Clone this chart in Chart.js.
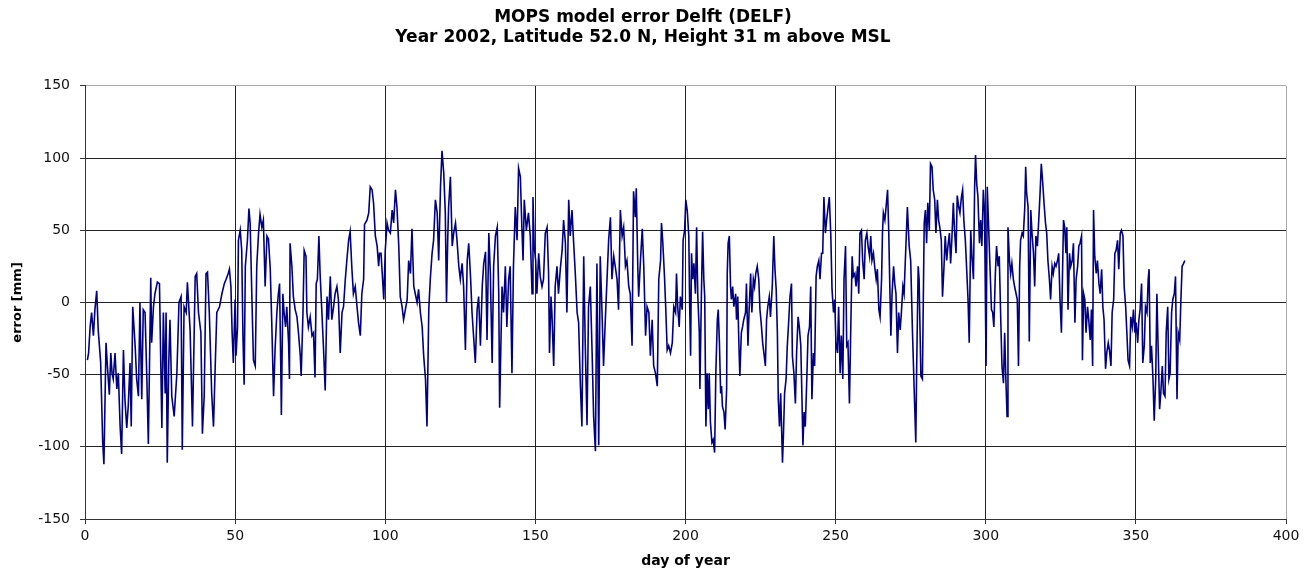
<!DOCTYPE html>
<html>
<head>
<meta charset="utf-8">
<title>MOPS model error Delft</title>
<script src="https://cdn.jsdelivr.net/npm/chart.js@4.4.1/dist/chart.umd.min.js"></script>
<style>
  html, body { margin: 0; padding: 0; background: #fff; }
  #wrap { width: 1313px; height: 572px; }
</style>
</head>
<body>
<div id="wrap"><canvas id="chart" width="1313" height="572"></canvas></div>
<script>
// [day of year, error in mm], in chunks of ~46 days
const days0to46 = [
  [0.8,-40],[1.2,-35],[1.7,-17],[2.2,-7],[2.8,-23],[3.3,-5],[3.9,8],[4.4,-19],[5.2,-41],[5.9,-97],
  [6.3,-112],[7.0,-28],[7.4,-42],[8.1,-64],[8.6,-35],[9.0,-49],[9.4,-53],[10.0,-35],[10.6,-60],[11.1,-49],
  [11.7,-86],[12.2,-105],[12.8,-33],[13.3,-67],[13.9,-87],[14.4,-72],[15.0,-42],[15.4,-86],[15.9,-3],[16.7,-30],
  [17.2,-53],[17.8,-65],[18.3,0],[18.9,-67],[19.4,-5],[20.0,-7],[20.6,-53],[21.1,-98],[21.9,17],[22.2,-28],
  [22.8,-3],[23.3,6],[24.1,14],[24.8,13],[25.6,-87],[26.1,-7],[26.7,-63],[27.0,-7],[27.4,-111],[27.9,-42],
  [28.3,-12],[28.9,-65],[29.7,-79],[30.6,-49],[31.3,0],[32.0,4],[32.4,-102],[33.0,-3],[33.7,-7],[34.1,14],
  [35.0,-19],[35.8,-86],[36.7,18],[37.2,20],[37.8,-7],[38.6,-21],[39.1,-91],[39.7,-65],[40.3,20],[40.8,21],
  [41.4,-7],[42.2,-63],[42.8,-86],[43.3,-49],[43.9,-7],[44.8,-3],[45.6,6],[46.4,13]
];
const days47to93 = [
  [47.0,16],[47.7,20],[48.1,23],[48.6,11],[49.0,-21],[49.4,-42],[50.0,2],[50.3,-37],[50.8,-17],[51.1,43],
  [51.7,50],[52.2,36],[52.6,-23],[53.0,-57],[53.4,25],[54.1,43],[54.6,65],[55.0,55],[55.6,2],[56.1,-40],
  [56.7,-44],[57.2,25],[57.8,48],[58.3,61],[58.9,52],[59.4,57],[60.0,11],[60.6,46],[61.1,44],[61.7,23],
  [62.2,-14],[62.8,-65],[63.3,-33],[63.9,-7],[64.4,6],[64.8,13],[65.2,-44],[65.4,-78],[65.9,6],[66.3,-7],
  [66.8,-17],[67.2,-3],[67.8,-28],[68.1,-53],[68.3,41],[68.9,25],[69.4,4],[70.0,-5],[70.6,-10],[71.1,-21],
  [71.7,-37],[72.0,-51],[72.6,-7],[73.0,36],[73.6,32],[73.9,-7],[74.4,-17],[75.0,-10],[75.6,-23],[76.1,-21],
  [76.6,-52],[77.0,13],[77.4,16],[77.9,46],[78.3,20],[78.9,-7],[79.4,-30],[80.0,-61],[80.6,4],[81.1,-12],
  [81.7,18],[82.2,-12],[82.8,-3],[83.3,6],[83.9,11],[84.4,2],[85.0,-35],[85.6,-7],[86.1,-3],[86.7,16],
  [87.2,29],[87.8,43],[88.3,49],[88.9,23],[89.4,6],[90.0,11],[90.6,-3],[91.1,-14],[91.7,-23],[92.2,6],
  [92.8,16],[93.1,54]
];
const days94to138 = [
  [93.9,57],[94.5,62],[95.0,80],[95.6,78],[96.1,69],[96.7,46],[97.3,39],[97.8,25],[98.1,34],[98.6,34],
  [99.0,20],[99.5,2],[100.0,36],[100.6,55],[101.1,50],[101.7,48],[102.3,64],[102.8,55],[103.4,78],[103.9,66],
  [104.5,39],[105.0,4],[105.6,-3],[106.1,-12],[106.7,-5],[107.3,2],[107.8,29],[108.4,20],[108.9,51],[109.5,11],
  [110.0,6],[110.6,0],[111.1,9],[111.7,-7],[112.3,-17],[112.8,-37],[113.4,-53],[113.9,-86],[114.5,-5],[115.0,16],
  [115.6,34],[116.1,43],[116.7,71],[117.3,62],[117.8,29],[118.4,80],[118.9,105],[119.5,89],[120.0,62],[120.4,0],
  [120.8,43],[121.1,66],[121.7,87],[122.3,39],[122.8,48],[123.4,55],[123.9,43],[124.5,25],[125.0,16],[125.6,27],
  [126.1,11],[126.7,-33],[127.3,29],[127.8,41],[128.4,18],[128.9,-7],[129.5,-26],[130.0,-42],[130.6,-5],[131.1,4],
  [131.7,-30],[132.3,11],[132.8,27],[133.4,35],[133.9,-26],[134.5,48],[135.0,20],[135.6,-42],[136.1,25],[136.7,46],
  [137.3,52],[137.8,6],[138.1,-73]
];
const days139to185 = [
  [138.9,11],[139.4,-7],[140.0,25],[140.5,-17],[141.1,16],[141.6,25],[142.2,-49],[142.7,25],[143.3,66],[143.9,43],
  [144.4,93],[145.0,87],[145.5,52],[145.9,29],[146.3,71],[147.0,50],[147.7,62],[148.3,46],[148.9,6],[149.2,73],
  [149.6,39],[150.1,29],[150.5,6],[151.1,34],[151.6,18],[152.2,11],[152.7,16],[153.3,48],[153.9,52],[154.4,20],
  [154.7,-35],[155.2,4],[155.5,-7],[156.1,-44],[156.6,11],[157.2,25],[157.7,6],[158.3,23],[158.9,36],[159.4,57],
  [160.0,41],[160.5,-7],[161.1,71],[161.6,46],[162.2,64],[162.7,43],[163.3,20],[163.9,-7],[164.4,-14],[165.0,-58],
  [165.5,-86],[166.1,32],[166.6,-28],[167.2,-85],[167.7,-3],[168.3,11],[168.9,-35],[169.4,-79],[170.0,-103],[170.5,27],
  [171.1,-99],[171.6,32],[172.2,-7],[172.7,-44],[173.3,-12],[173.9,18],[174.4,43],[175.0,59],[175.5,16],[176.1,32],
  [176.6,25],[177.2,16],[177.7,-5],[178.3,64],[178.9,46],[179.4,52],[180.0,25],[180.5,29],[181.1,11],[181.6,6],
  [182.2,-30],[182.7,77],[183.3,59],[183.6,79],[184.1,25],[184.4,4],[185.0,29]
];
const days186to231 = [
  [185.6,51],[186.1,25],[186.7,-23],[187.2,-3],[187.8,-7],[188.3,-37],[188.9,-12],[189.4,-44],[190.0,-49],[190.6,-58],
  [191.1,16],[191.7,29],[192.0,55],[192.4,43],[193.0,18],[193.4,-3],[193.9,-33],[194.4,-30],[195.0,-35],[195.6,-28],
  [196.1,-3],[196.7,-7],[197.0,20],[197.4,-3],[197.9,-17],[198.3,4],[198.9,-5],[199.2,43],[199.7,50],[200.1,71],
  [200.6,63],[201.1,46],[201.4,-3],[201.7,-37],[202.0,34],[202.4,16],[202.8,27],[203.3,6],[203.7,52],[204.1,4],
  [204.6,-21],[204.8,-60],[205.3,6],[205.7,49],[206.1,16],[206.4,4],[206.8,-86],[207.2,-49],[207.6,-74],[207.9,-49],
  [208.3,-83],[208.8,-97],[209.2,-95],[209.7,-104],[210.1,-49],[210.6,-12],[210.9,-5],[211.3,-28],[211.7,-63],[212.0,-58],
  [212.3,-72],[212.8,-76],[213.2,-88],[213.7,-60],[213.9,20],[214.2,41],[214.6,46],[215.0,11],[215.3,2],[215.7,11],
  [216.1,-3],[216.7,6],[217.0,-12],[217.4,4],[217.8,-30],[218.1,-51],[218.6,-21],[219.0,-17],[219.4,-12],[220.0,-7],
  [220.3,13],[220.8,-30],[221.2,-5],[221.7,20],[222.1,-7],[222.6,16],[223.0,11],[223.4,20],[223.9,25],[224.4,16],
  [224.8,-5],[225.2,-14],[225.7,-28],[226.1,-35],[226.6,-44],[227.0,-12],[227.4,-3],[227.9,4],[228.3,-10],[228.9,11],
  [229.4,46],[229.8,23],[230.2,9],[230.6,-21],[230.9,-67],[231.3,-86],[231.7,-63]
];
const days232to279 = [
  [232.3,-111],[232.6,-93],[233.0,-63],[233.5,-53],[233.9,-30],[234.4,-12],[234.8,4],[235.3,13],[235.6,-37],[236.1,-49],
  [236.6,-70],[237.0,-35],[237.5,-10],[237.9,-17],[238.4,-30],[238.8,-67],[239.1,-99],[239.5,-76],[239.9,-86],[240.4,-53],
  [240.8,-23],[241.3,-17],[241.7,11],[242.1,-67],[242.6,-35],[243.0,-44],[243.5,18],[243.9,25],[244.4,29],[244.8,16],
  [245.3,34],[245.7,34],[246.1,73],[246.6,48],[247.0,57],[247.5,66],[247.9,73],[248.4,46],[248.8,9],[249.3,-7],
  [249.7,2],[250.1,-28],[250.6,-35],[251.0,-3],[251.5,-49],[251.9,-23],[252.4,-53],[252.8,16],[253.3,39],[253.7,-30],
  [254.1,-28],[254.6,-70],[255.0,-23],[255.5,32],[255.9,18],[256.4,20],[256.8,11],[257.3,25],[257.7,6],[258.1,48],
  [258.6,50],[259.0,29],[259.5,16],[259.9,43],[260.4,48],[260.8,39],[261.3,32],[261.7,46],[262.1,29],[262.6,34],
  [263.0,25],[263.5,16],[263.9,23],[264.4,-5],[264.8,-10],[265.3,16],[265.6,48],[265.9,62],[266.4,57],[266.8,66],
  [267.3,78],[267.7,48],[268.1,6],[268.4,-23],[268.8,6],[269.3,25],[269.7,13],[270.1,6],[270.6,-35],[271.0,-7],
  [271.5,-19],[271.9,-7],[272.4,11],[272.8,6],[273.4,39],[273.9,66],[274.5,39],[275.0,29],[275.6,-21],[276.1,-56],
  [276.7,-97],[277.0,-44],[277.5,25],[277.8,16],[278.4,-51],[278.9,-53],[279.5,55]
];
const days280to325 = [
  [279.9,64],[280.3,41],[280.7,69],[281.2,50],[281.6,96],[282.1,94],[282.5,78],[283.0,71],[283.4,48],[283.9,71],
  [284.3,57],[284.7,52],[285.2,43],[285.6,4],[286.1,25],[286.5,46],[287.0,29],[287.4,39],[287.9,48],[288.3,27],
  [288.7,43],[289.2,69],[289.6,50],[290.1,34],[290.5,74],[291.0,66],[291.4,62],[291.9,73],[292.3,78],[292.7,57],
  [293.2,43],[293.6,25],[294.1,2],[294.5,-28],[295.0,50],[295.4,32],[295.9,16],[296.3,80],[296.6,102],[297.0,82],
  [297.4,73],[297.9,41],[298.3,57],[298.7,39],[299.2,78],[299.6,62],[300.1,-44],[300.5,80],[301.0,50],[301.4,25],
  [301.9,-5],[302.3,-7],[302.7,-17],[303.2,20],[303.6,39],[304.1,25],[304.5,32],[305.0,-12],[305.4,-44],[305.9,-56],
  [306.3,-21],[306.7,-53],[307.1,-79],[307.4,52],[307.9,29],[308.3,20],[308.7,27],[309.2,16],[309.6,11],[310.1,6],
  [310.5,2],[310.9,-44],[311.3,25],[311.6,43],[312.1,48],[312.5,46],[313.0,66],[313.3,94],[313.6,76],[314.1,66],
  [314.5,-27],[315.0,64],[315.4,48],[315.9,34],[316.3,11],[316.7,46],[317.2,39],[317.6,55],[318.1,76],[318.5,96],
  [319.0,82],[319.4,69],[319.9,55],[320.3,48],[320.7,29],[321.2,16],[321.6,2],[322.1,25],[322.5,20],[323.0,27],
  [323.4,25],[323.9,29],[324.3,34],[324.7,4],[325.2,-21]
];
const days326to366 = [
  [325.9,57],[326.3,52],[326.7,34],[327.0,52],[327.4,-5],[327.9,34],[328.3,25],[328.8,29],[329.2,41],[329.7,-14],
  [330.1,16],[330.6,25],[331.0,39],[331.4,41],[331.9,46],[332.2,-40],[332.6,6],[333.0,2],[333.4,-21],[333.9,-3],
  [334.3,-12],[334.8,-26],[335.2,-5],[335.6,-44],[335.9,64],[336.3,32],[336.8,20],[337.2,29],[337.7,13],[338.1,6],
  [338.6,23],[339.0,-3],[339.4,-12],[339.9,-46],[340.3,-35],[340.8,-28],[341.2,-33],[341.7,-44],[342.1,-7],[342.6,2],
  [343.0,34],[343.4,36],[343.9,43],[344.3,23],[344.8,48],[345.2,50],[345.7,46],[346.1,11],[346.6,-3],[347.0,-21],
  [347.4,-40],[347.9,-44],[348.3,-10],[348.8,-17],[349.2,-5],[349.7,-21],[350.1,-14],[350.6,-28],[351.0,-12],[351.4,-5],
  [351.9,13],[352.3,-42],[352.8,-30],[353.2,-3],[353.7,-7],[354.1,16],[354.4,23],[354.8,-42],[355.2,-30],[355.7,-53],
  [356.1,-82],[356.6,-53],[357.0,6],[357.4,-30],[357.9,-74],[358.3,-63],[358.8,-44],[359.2,-63],[359.7,-65],[360.1,-21],
  [360.6,-3],[361.0,-53],[361.4,-49],[361.9,-7],[362.3,2],[362.8,6],[363.2,18],[363.7,-67],[364.1,-21],[364.6,-26],
  [365.0,2],[365.4,25],[365.9,27],[366.3,29]
];

const titleLines = [
  'MOPS model error Delft (DELF)',
  'Year 2002, Latitude 52.0 N, Height 31 m above MSL'
];

const series = [
  ...days0to46, ...days47to93, ...days94to138, ...days139to185,
  ...days186to231, ...days232to279, ...days280to325, ...days326to366
].map(([d, e]) => ({ x: d, y: e }));

const edgeGrey = '#a8a8a8';
const gridDark = '#222222';

new Chart(document.getElementById('chart'), {
  type: 'line',
  data: {
    datasets: [{
      label: 'error',
      data: series,
      borderColor: '#000080',
      borderWidth: 1.6,
      pointRadius: 0,
      tension: 0,
      fill: false
    }]
  },
  options: {
    responsive: false,
    animation: false,
    layout: { padding: { left: 0, right: 27, top: 0, bottom: 0 } },
    plugins: {
      legend: { display: false },
      tooltip: { enabled: false },
      title: {
        display: true,
        text: titleLines,
        color: '#000',
        font: { family: 'DejaVu Sans', size: 17, weight: 'bold', lineHeight: 1.2 },
        padding: { top: 7, bottom: 38 }
      }
    },
    scales: {
      x: {
        type: 'linear',
        min: 0,
        max: 400,
        afterFit: s => { s.height = 53; },
        ticks: {
          stepSize: 50,
          color: '#111',
          padding: 4,
          font: { family: 'DejaVu Sans', size: 14 }
        },
        grid: {
          color: c => (c.tick && c.tick.value === 400 ? edgeGrey : gridDark),
          tickColor: '#333',
          tickLength: 5
        },
        border: { color: '#333' },
        title: {
          display: true,
          text: 'day of year',
          color: '#000',
          font: { family: 'DejaVu Sans', size: 14, weight: 'bold' },
          padding: { top: 0, bottom: 2 }
        }
      },
      y: {
        min: -150,
        max: 150,
        afterFit: s => { s.width = 85; },
        ticks: {
          stepSize: 50,
          color: '#111',
          padding: 10,
          font: { family: 'DejaVu Sans', size: 14 }
        },
        grid: {
          color: c => (c.tick && c.tick.value === 150 ? edgeGrey : gridDark),
          tickColor: '#333',
          tickLength: 5
        },
        border: { color: '#333' },
        title: {
          display: true,
          text: 'error [mm]',
          color: '#000',
          font: { family: 'DejaVu Sans', size: 13, weight: 'bold' },
          padding: { top: 10, bottom: 0 }
        }
      }
    }
  }
});
</script>
</body>
</html>
